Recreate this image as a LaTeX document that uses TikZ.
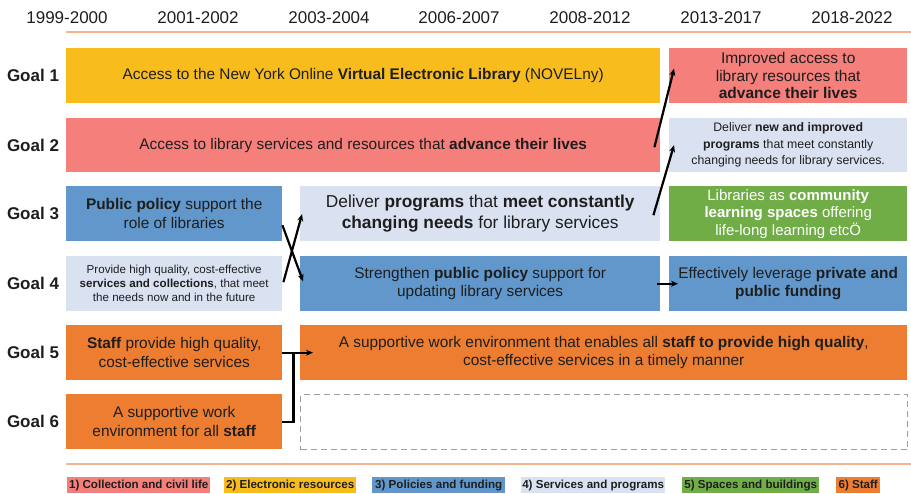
\documentclass[tikz,border=0pt]{standalone}
\usepackage{fontspec}
\setmainfont{Liberation Sans}
\usetikzlibrary{calc,arrows.meta}
\definecolor{ink}{HTML}{1E1E1E}
\definecolor{c red}{HTML}{F47F7B}
\definecolor{c yellow}{HTML}{F8BD1C}
\definecolor{c blue}{HTML}{6197CB}
\definecolor{c pale}{HTML}{DAE2F1}
\definecolor{c green}{HTML}{70AD47}
\definecolor{c orange}{HTML}{ED7D31}
\definecolor{c peach}{HTML}{F5B68E}
\colorlet{frame gray}{black!38}
\def\bodyfont{\fontsize{15.4}{18.5}\selectfont}
\tikzset{box/.style={anchor=north west, inner sep=0pt, align=center, text=ink, font=\bodyfont},
      year/.style={text=ink, font=\fontsize{17}{18}\selectfont},
      goal/.style={text=ink, font=\fontsize{17}{18}\selectfont\bfseries},
      key/.style={anchor=north west, inner sep=0pt, minimum height=16pt, text=ink,
        font=\fontsize{11.6}{12}\selectfont\bfseries},
      rule/.style={draw=c peach, line width=2pt},
      arr/.style={-{Stealth[length=7pt,width=6pt]}, line width=2.2pt, black}}

\begin{document}
\begin{tikzpicture}[x=1pt,y=-1pt]
\useasboundingbox (0,0) rectangle (911,494);
    % time axis
    \node[year] (y1) at (67,18)  {1999-2000};
    \node[year] (y2) at (198,18) {2001-2002};
    \node[year] (y3) at (329,18) {2003-2004};
    \node[year] (y4) at (459,18) {2006-2007};
    \node[year] (y5) at (590,18) {2008-2012};
    \node[year] (y6) at (721,18) {2013-2017};
    \node[year] (y7) at (852,18) {2018-2022};
    \draw[rule] (66,32) -- (911,32);

    \node[goal] (goal1) at (33,75.5)  {Goal 1};
    \node[goal] (goal2) at (33,145)   {Goal 2};
    \node[goal] (goal3) at (33,213.5) {Goal 3};
    \node[goal] (goal4) at (33,283.5) {Goal 4};
    \node[goal] (goal5) at (33,352.5) {Goal 5};
    \node[goal] (goal6) at (33,421.5) {Goal 6};

    % goal 1
    \node[box, fill=c yellow, minimum width=594pt, minimum height=55pt] (g1wide) at (66,48)
      {Access to the New York Online \textbf{Virtual Electronic Library} (NOVELny)};
    \node[box, fill=c red, minimum width=238pt, minimum height=55pt, font=\fontsize{15.5}{17.5}\selectfont] (g1right) at (669,48)
      {Improved access to\\library resources that\\\textbf{advance their lives}};
    % goal 2
    \node[box, fill=c red, minimum width=594pt, minimum height=54pt] (g2wide) at (66,118)
      {Access to library services and resources that \textbf{advance their lives}};
    \node[box, fill=c pale, minimum width=238pt, minimum height=54pt, font=\fontsize{12.3}{16.5}\selectfont] (g2right) at (669,118)
      {Deliver \textbf{new and improved}\\\textbf{programs} that meet constantly\\changing needs for library services.};
    % goal 3
    \node[box, fill=c blue, minimum width=216pt, minimum height=55pt] (g3left) at (66,186)
      {\textbf{Public policy} support the\\role of libraries};
    \node[box, fill=c pale, minimum width=360pt, minimum height=55pt, font=\fontsize{17.3}{20.5}\selectfont] (g3mid) at (300,186)
      {Deliver \textbf{programs} that \textbf{meet constantly}\\\textbf{changing needs} for library services};
    \node[box, fill=c green, minimum width=238pt, minimum height=55pt, text=white, font=\fontsize{15}{17.5}\selectfont] (g3right) at (669,186)
      {Libraries as \textbf{community}\\\textbf{learning spaces} offering\\life-long learning etcÖ};
    % goal 4
    \node[box, fill=c pale, minimum width=216pt, minimum height=55pt, font=\fontsize{11.6}{14}\selectfont] (g4left) at (66,256)
      {Provide high quality, cost-effective\\\textbf{services and collections}, that meet\\the needs now and in the future};
    \node[box, fill=c blue, minimum width=360pt, minimum height=55pt] (g4mid) at (300,256)
      {Strengthen \textbf{public policy} support for\\updating library services};
    \node[box, fill=c blue, minimum width=238pt, minimum height=55pt] (g4right) at (669,256)
      {Effectively leverage \textbf{private and}\\\textbf{public funding}};
    % goal 5
    \node[box, fill=c orange, minimum width=216pt, minimum height=55pt] (g5left) at (66,325)
      {\textbf{Staff} provide high quality,\\cost-effective services};
    \node[box, fill=c orange, minimum width=607pt, minimum height=55pt] (g5wide) at (300,325)
      {A supportive work environment that enables all \textbf{staff to provide high quality},\\cost-effective services in a timely manner};
    % goal 6
    \node[box, fill=c orange, minimum width=216pt, minimum height=55pt] (g6left) at (66,394)
      {A supportive work\\environment for all \textbf{staff}};
    \node[box, draw=frame gray, line width=1.2pt, dash pattern=on 6pt off 4pt,
      minimum width=607pt, minimum height=55pt] (g6wide) at (300,394) {};

    % links between periods
    \draw[arr] ($(g2wide.east)+(-6,2)$) -- ($(g1right.west)+(5,-7)$);
    \draw[arr] ($(g3mid.east)+(-7,1.5)$) -- ($(g2right.west)+(5,0)$);
    \draw[arr] ($(g3left.east)+(0,11.5)$) -- ($(g4mid.west)+(3,-2.5)$);
    \draw[arr] ($(g4left.east)+(1,-1.5)$) -- ($(g3mid.west)+(2,0.5)$);
    \draw[arr] ($(g4mid.east)+(-3,0)$) -- ($(g4right.west)+(9,0)$);
    \draw[arr] (g5left.east) -- ($(g5wide.west)+(13,0)$);
    \draw[line width=2.2pt] (g6left.east) -| ($(g5left.east)+(11,0)$);

    \draw[rule] (66,464) -- (911,464);

    % categories
    \node[key, fill=c red, minimum width=143pt]    (k1) at (67,477)  {1) Collection and civil life};
    \node[key, fill=c yellow, minimum width=132pt] (k2) at (224,477) {2) Electronic resources};
    \node[key, fill=c blue, minimum width=133pt]   (k3) at (372,477) {3) Policies and funding};
    \node[key, fill=c pale, minimum width=144pt]   (k4) at (521,477) {4) Services and programs};
    \node[key, fill=c green, minimum width=137pt]  (k5) at (682,477) {5) Spaces and buildings};
    \node[key, fill=c orange, minimum width=44pt]  (k6) at (836,477) {6) Staff};
\end{tikzpicture}
\end{document}
